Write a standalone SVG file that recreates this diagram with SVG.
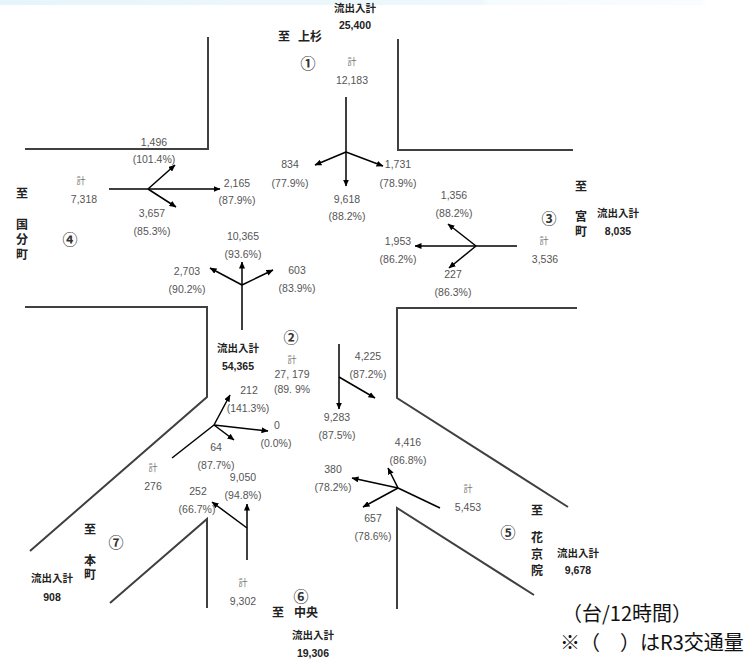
<svg xmlns="http://www.w3.org/2000/svg" width="753" height="665" viewBox="0 0 753 665">
<defs>
<linearGradient id="band" x1="0" x2="1" y1="0" y2="0">
<stop offset="0" stop-color="#e6f5fb"/><stop offset="0.64" stop-color="#eef8fc"/><stop offset="0.65" stop-color="#f6fbfd"/><stop offset="0.93" stop-color="#f8fcfd"/><stop offset="0.94" stop-color="#ffffff"/>
</linearGradient>
<marker id="ah" markerUnits="userSpaceOnUse" markerWidth="7" markerHeight="6" refX="6.5" refY="3" orient="auto">
<path d="M0,0 L7,3 L0,6 z" fill="#000"/>
</marker>
<style>
.road{fill:none;stroke:#404040;stroke-width:2}
.ar{fill:none;stroke:#000;stroke-width:1.5;marker-end:url(#ah)}
.tr{fill:none;stroke:#000;stroke-width:1.5}
text{font-family:"Liberation Sans","Noto Sans CJK JP",sans-serif;dominant-baseline:central;text-anchor:middle}
.n{font-size:10.5px;fill:#555}
.k{font-size:9px;fill:#777}
.b{font-size:10.5px;font-weight:bold;fill:#222}
.to{font-size:12px;font-weight:bold;fill:#222}
.c{font-family:"Noto Sans CJK JP",sans-serif;font-size:15px;font-weight:bold;fill:#333}
.note{font-family:"Noto Sans CJK JP",sans-serif;font-size:20px;fill:#111;text-anchor:start}
</style>
</defs>
<rect x="0" y="0" width="753" height="665" fill="#fff"/>
<rect x="0" y="0" width="753" height="5" fill="url(#band)"/>
<g id="roads">
<path class="road" d="M208,37 V149 H25"/>
<path class="road" d="M398,39 V150 H573"/>
<path class="road" d="M25,307 H207 V397 L30,551"/>
<path class="road" d="M577,308 H397 V398 L568,507"/>
<path class="road" d="M110,603 L207,519 V608"/>
<path class="road" d="M397,609 V508 L534,595"/>
</g>
<g id="connectors">
<line class="ar" x1="346" y1="97" x2="346" y2="186"/>
<line class="ar" x1="346" y1="152" x2="315" y2="165"/>
<line class="ar" x1="346" y1="152" x2="383" y2="166"/>
<line class="ar" x1="109" y1="189" x2="220" y2="189"/>
<line class="ar" x1="148" y1="189" x2="175" y2="165"/>
<line class="ar" x1="148" y1="189" x2="176" y2="207"/>
<line class="ar" x1="517" y1="246" x2="415" y2="246"/>
<line class="ar" x1="476" y1="246" x2="448" y2="224"/>
<line class="ar" x1="476" y1="246" x2="449" y2="268"/>
<line class="ar" x1="242" y1="330" x2="242" y2="262"/>
<line class="ar" x1="242" y1="285" x2="210" y2="268"/>
<line class="ar" x1="242" y1="285" x2="273" y2="270"/>
<line class="ar" x1="339" y1="344" x2="339" y2="409"/>
<line class="ar" x1="339" y1="377" x2="375" y2="398"/>
<line class="tr" x1="440" y1="508" x2="398" y2="488"/>
<line class="ar" x1="398" y1="488" x2="388" y2="468"/>
<line class="ar" x1="398" y1="488" x2="352" y2="478"/>
<line class="ar" x1="398" y1="488" x2="363" y2="507"/>
<line class="tr" x1="172" y1="458" x2="214" y2="425"/>
<line class="ar" x1="214" y1="425" x2="230" y2="395"/>
<line class="ar" x1="214" y1="425" x2="268" y2="431"/>
<line class="ar" x1="214" y1="425" x2="234" y2="440"/>
<line class="ar" x1="247" y1="560" x2="247" y2="504"/>
<line class="ar" x1="247" y1="528" x2="212" y2="502"/>
</g>
<g id="node1">
<text class="b" x="355" y="8">流出入計</text>
<text class="b" x="355" y="25">25,400</text>
<text class="to" x="284" y="37">至</text>
<text class="to" x="310" y="37">上杉</text>
<text class="c" x="308" y="62">①</text>
<text class="k" x="352" y="62">計</text>
<text class="n" x="352" y="80">12,183</text>
<text class="n" x="290" y="164">834</text>
<text class="n" x="290" y="183">(77.9%)</text>
<text class="n" x="398" y="164">1,731</text>
<text class="n" x="398" y="183">(78.9%)</text>
<text class="n" x="347" y="199">9,618</text>
<text class="n" x="347" y="216">(88.2%)</text>
</g>
<g id="node4">
<text class="n" x="154" y="142">1,496</text>
<text class="n" x="154" y="159">(101.4%)</text>
<text class="n" x="237" y="183">2,165</text>
<text class="n" x="237" y="200">(87.9%)</text>
<text class="n" x="152" y="213">3,657</text>
<text class="n" x="152" y="231">(85.3%)</text>
<text class="k" x="81" y="181">計</text>
<text class="n" x="84" y="199">7,318</text>
<text class="to" x="22" y="194">至</text>
<text class="to" x="22" y="225">国</text>
<text class="to" x="22" y="240">分</text>
<text class="to" x="22" y="255">町</text>
<text class="c" x="70" y="238">④</text>
</g>
<g id="node3">
<text class="n" x="454" y="195">1,356</text>
<text class="n" x="454" y="213">(88.2%)</text>
<text class="n" x="398" y="241">1,953</text>
<text class="n" x="398" y="259">(86.2%)</text>
<text class="n" x="453" y="274">227</text>
<text class="n" x="453" y="292">(86.3%)</text>
<text class="k" x="544" y="241">計</text>
<text class="n" x="545" y="259">3,536</text>
<text class="to" x="581" y="187">至</text>
<text class="to" x="581" y="217">宮</text>
<text class="to" x="581" y="232">町</text>
<text class="c" x="549" y="217">③</text>
<text class="b" x="618" y="213">流出入計</text>
<text class="b" x="618" y="231">8,035</text>
</g>
<g id="node2">
<text class="n" x="243" y="236">10,365</text>
<text class="n" x="243" y="254">(93.6%)</text>
<text class="n" x="187" y="271">2,703</text>
<text class="n" x="187" y="289">(90.2%)</text>
<text class="n" x="297" y="270">603</text>
<text class="n" x="297" y="288">(83.9%)</text>
<text class="c" x="291" y="336">②</text>
<text class="b" x="238" y="348">流出入計</text>
<text class="b" x="238" y="366">54,365</text>
<text class="k" x="292" y="360">計</text>
<text class="n" x="292" y="374">27, 179</text>
<text class="n" x="292" y="389">(89. 9%</text>
<text class="n" x="368" y="356">4,225</text>
<text class="n" x="368" y="374">(87.2%)</text>
<text class="n" x="337" y="417">9,283</text>
<text class="n" x="337" y="435">(87.5%)</text>
</g>
<g id="node5">
<text class="n" x="408" y="442">4,416</text>
<text class="n" x="408" y="460">(86.8%)</text>
<text class="n" x="333" y="469">380</text>
<text class="n" x="333" y="487">(78.2%)</text>
<text class="n" x="373" y="518">657</text>
<text class="n" x="373" y="536">(78.6%)</text>
<text class="k" x="468" y="489">計</text>
<text class="n" x="468" y="507">5,453</text>
<text class="to" x="537" y="511">至</text>
<text class="c" x="508" y="531">⑤</text>
<text class="to" x="537" y="538">花</text>
<text class="to" x="537" y="555">京</text>
<text class="to" x="537" y="571">院</text>
<text class="b" x="578" y="553">流出入計</text>
<text class="b" x="578" y="570">9,678</text>
</g>
<g id="node7">
<text class="n" x="249" y="390">212</text>
<text class="n" x="248" y="408">(141.3%)</text>
<text class="n" x="277" y="425">0</text>
<text class="n" x="276" y="443">(0.0%)</text>
<text class="n" x="216" y="447">64</text>
<text class="n" x="216" y="465">(87.7%)</text>
<text class="k" x="153" y="468">計</text>
<text class="n" x="153" y="486">276</text>
<text class="c" x="116" y="541">⑦</text>
<text class="to" x="90" y="530">至</text>
<text class="to" x="90" y="561">本</text>
<text class="to" x="90" y="575">町</text>
<text class="b" x="52" y="578">流出入計</text>
<text class="b" x="52" y="597">908</text>
</g>
<g id="node6">
<text class="n" x="243" y="477">9,050</text>
<text class="n" x="243" y="495">(94.8%)</text>
<text class="n" x="198" y="491">252</text>
<text class="n" x="197" y="509">(66.7%)</text>
<text class="k" x="243" y="583">計</text>
<text class="n" x="243" y="601">9,302</text>
<text class="c" x="301" y="595">⑥</text>
<text class="to" x="278" y="613">至</text>
<text class="to" x="306" y="613">中央</text>
<text class="b" x="313" y="635">流出入計</text>
<text class="b" x="313" y="653">19,306</text>
</g>
<g id="notes">
<text class="note" x="562" y="612">（台/12時間）</text>
<text class="note" x="560" y="641">※（　）はR3交通量</text>
</g>
</svg>
